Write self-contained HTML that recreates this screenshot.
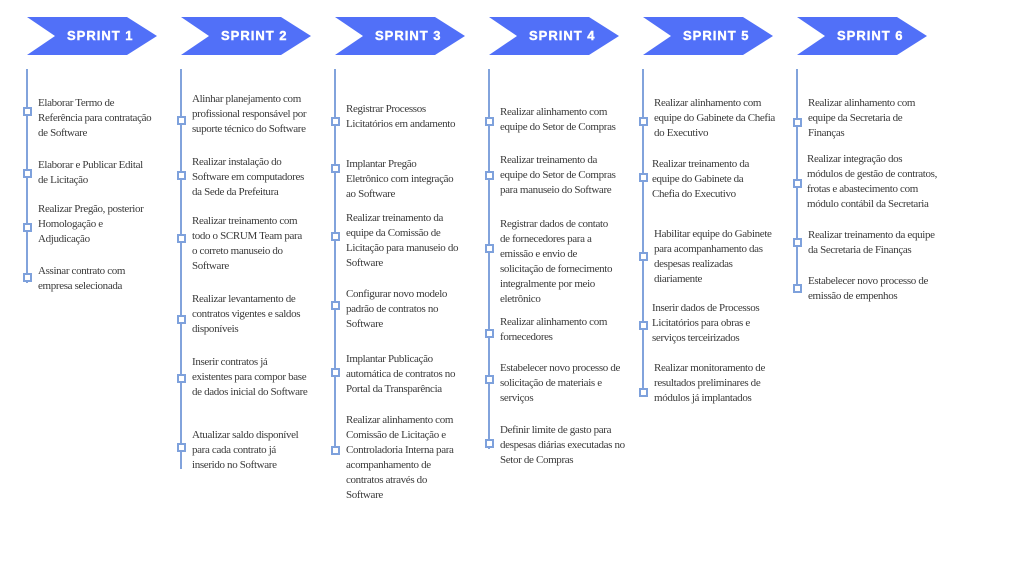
<!DOCTYPE html>
<html><head><meta charset="utf-8"><style>
body{margin:0;width:1024px;height:576px;background:#fff;position:relative;overflow:hidden;font-family:"Liberation Serif",serif;}
.chev{position:absolute;top:17px;width:130px;height:38px;background:#5170f8;clip-path:polygon(0 0,100px 0,130px 19px,100px 38px,0 38px,28px 19px);color:#fff;font-family:"Liberation Sans",sans-serif;font-weight:bold;font-size:13px;line-height:38px;letter-spacing:1px;}
.chev span{position:absolute;left:40px;-webkit-text-stroke:0.4px #fff;}
.ln{position:absolute;top:69px;width:2px;background:#82a3dc;}
.mk{position:absolute;width:5px;height:5px;border:2px solid #7ea1dc;background:#fff;}
.t{position:absolute;font-size:11px;line-height:15px;color:#3a3a3a;white-space:nowrap;letter-spacing:-0.35px;}
</style></head><body>
<div class="chev" style="left:27px"><span>SPRINT 1</span></div>
<div class="chev" style="left:181px"><span>SPRINT 2</span></div>
<div class="chev" style="left:335px"><span>SPRINT 3</span></div>
<div class="chev" style="left:489px"><span>SPRINT 4</span></div>
<div class="chev" style="left:643px"><span>SPRINT 5</span></div>
<div class="chev" style="left:797px"><span>SPRINT 6</span></div>

<div class="ln" style="left:26px;height:214px"></div>
<div class="ln" style="left:180px;height:400px"></div>
<div class="ln" style="left:334px;height:384px"></div>
<div class="ln" style="left:488px;height:380px"></div>
<div class="ln" style="left:642px;height:324px"></div>
<div class="ln" style="left:796px;height:220px"></div>

<!-- col1 -->
<div class="mk" style="left:23px;top:107px"></div><div class="t" style="left:38px;top:96px">Elaborar Termo de<br>Referência para contratação<br>de Software</div>
<div class="mk" style="left:23px;top:169px"></div><div class="t" style="left:38px;top:158px">Elaborar e Publicar Edital<br>de Licitação</div>
<div class="mk" style="left:23px;top:223px"></div><div class="t" style="left:38px;top:202px">Realizar Pregão, posterior<br>Homologação e<br>Adjudicação</div>
<div class="mk" style="left:23px;top:273px"></div><div class="t" style="left:38px;top:264px">Assinar contrato com<br>empresa selecionada</div>
<!-- col2 -->
<div class="mk" style="left:177px;top:116px"></div><div class="t" style="left:192px;top:92px">Alinhar planejamento com<br>profissional responsável por<br>suporte técnico do Software</div>
<div class="mk" style="left:177px;top:171px"></div><div class="t" style="left:192px;top:155px">Realizar instalação do<br>Software em computadores<br>da Sede da Prefeitura</div>
<div class="mk" style="left:177px;top:234px"></div><div class="t" style="left:192px;top:214px">Realizar treinamento com<br>todo o SCRUM Team para<br>o correto manuseio do<br>Software</div>
<div class="mk" style="left:177px;top:315px"></div><div class="t" style="left:192px;top:292px">Realizar levantamento de<br>contratos vigentes e saldos<br>disponíveis</div>
<div class="mk" style="left:177px;top:374px"></div><div class="t" style="left:192px;top:355px">Inserir contratos já<br>existentes para compor base<br>de dados inicial do Software</div>
<div class="mk" style="left:177px;top:443px"></div><div class="t" style="left:192px;top:428px">Atualizar saldo disponível<br>para cada contrato já<br>inserido no Software</div>
<!-- col3 -->
<div class="mk" style="left:331px;top:117px"></div><div class="t" style="left:346px;top:102px">Registrar Processos<br>Licitatórios em andamento</div>
<div class="mk" style="left:331px;top:164px"></div><div class="t" style="left:346px;top:157px">Implantar Pregão<br>Eletrônico com integração<br>ao Software</div>
<div class="mk" style="left:331px;top:232px"></div><div class="t" style="left:346px;top:211px">Realizar treinamento da<br>equipe da Comissão de<br>Licitação para manuseio do<br>Software</div>
<div class="mk" style="left:331px;top:301px"></div><div class="t" style="left:346px;top:287px">Configurar novo modelo<br>padrão de contratos no<br>Software</div>
<div class="mk" style="left:331px;top:368px"></div><div class="t" style="left:346px;top:352px">Implantar Publicação<br>automática de contratos no<br>Portal da Transparência</div>
<div class="mk" style="left:331px;top:446px"></div><div class="t" style="left:346px;top:413px">Realizar alinhamento com<br>Comissão de Licitação e<br>Controladoria Interna para<br>acompanhamento de<br>contratos através do<br>Software</div>
<!-- col4 -->
<div class="mk" style="left:485px;top:117px"></div><div class="t" style="left:500px;top:105px">Realizar alinhamento com<br>equipe do Setor de Compras</div>
<div class="mk" style="left:485px;top:171px"></div><div class="t" style="left:500px;top:153px">Realizar treinamento da<br>equipe do Setor de Compras<br>para manuseio do Software</div>
<div class="mk" style="left:485px;top:244px"></div><div class="t" style="left:500px;top:217px">Registrar dados de contato<br>de fornecedores para a<br>emissão e envio de<br>solicitação de fornecimento<br>integralmente por meio<br>eletrônico</div>
<div class="mk" style="left:485px;top:329px"></div><div class="t" style="left:500px;top:315px">Realizar alinhamento com<br>fornecedores</div>
<div class="mk" style="left:485px;top:375px"></div><div class="t" style="left:500px;top:361px">Estabelecer novo processo de<br>solicitação de materiais e<br>serviços</div>
<div class="mk" style="left:485px;top:439px"></div><div class="t" style="left:500px;top:423px">Definir limite de gasto para<br>despesas diárias executadas no<br>Setor de Compras</div>
<!-- col5 -->
<div class="mk" style="left:639px;top:117px"></div><div class="t" style="left:654px;top:96px">Realizar alinhamento com<br>equipe do Gabinete da Chefia<br>do Executivo</div>
<div class="mk" style="left:639px;top:173px"></div><div class="t" style="left:652px;top:157px">Realizar treinamento da<br>equipe do Gabinete da<br>Chefia do Executivo</div>
<div class="mk" style="left:639px;top:252px"></div><div class="t" style="left:654px;top:227px">Habilitar equipe do Gabinete<br>para acompanhamento das<br>despesas realizadas<br>diariamente</div>
<div class="mk" style="left:639px;top:321px"></div><div class="t" style="left:652px;top:301px">Inserir dados de Processos<br>Licitatórios para obras e<br>serviços terceirizados</div>
<div class="mk" style="left:639px;top:388px"></div><div class="t" style="left:654px;top:361px">Realizar monitoramento de<br>resultados preliminares de<br>módulos já implantados</div>
<!-- col6 -->
<div class="mk" style="left:793px;top:118px"></div><div class="t" style="left:808px;top:96px">Realizar alinhamento com<br>equipe da Secretaria de<br>Finanças</div>
<div class="mk" style="left:793px;top:179px"></div><div class="t" style="left:807px;top:152px">Realizar integração dos<br>módulos de gestão de contratos,<br>frotas e abastecimento com<br>módulo contábil da Secretaria</div>
<div class="mk" style="left:793px;top:238px"></div><div class="t" style="left:808px;top:228px">Realizar treinamento da equipe<br>da Secretaria de Finanças</div>
<div class="mk" style="left:793px;top:284px"></div><div class="t" style="left:808px;top:274px">Estabelecer novo processo de<br>emissão de empenhos</div>
</body></html>
